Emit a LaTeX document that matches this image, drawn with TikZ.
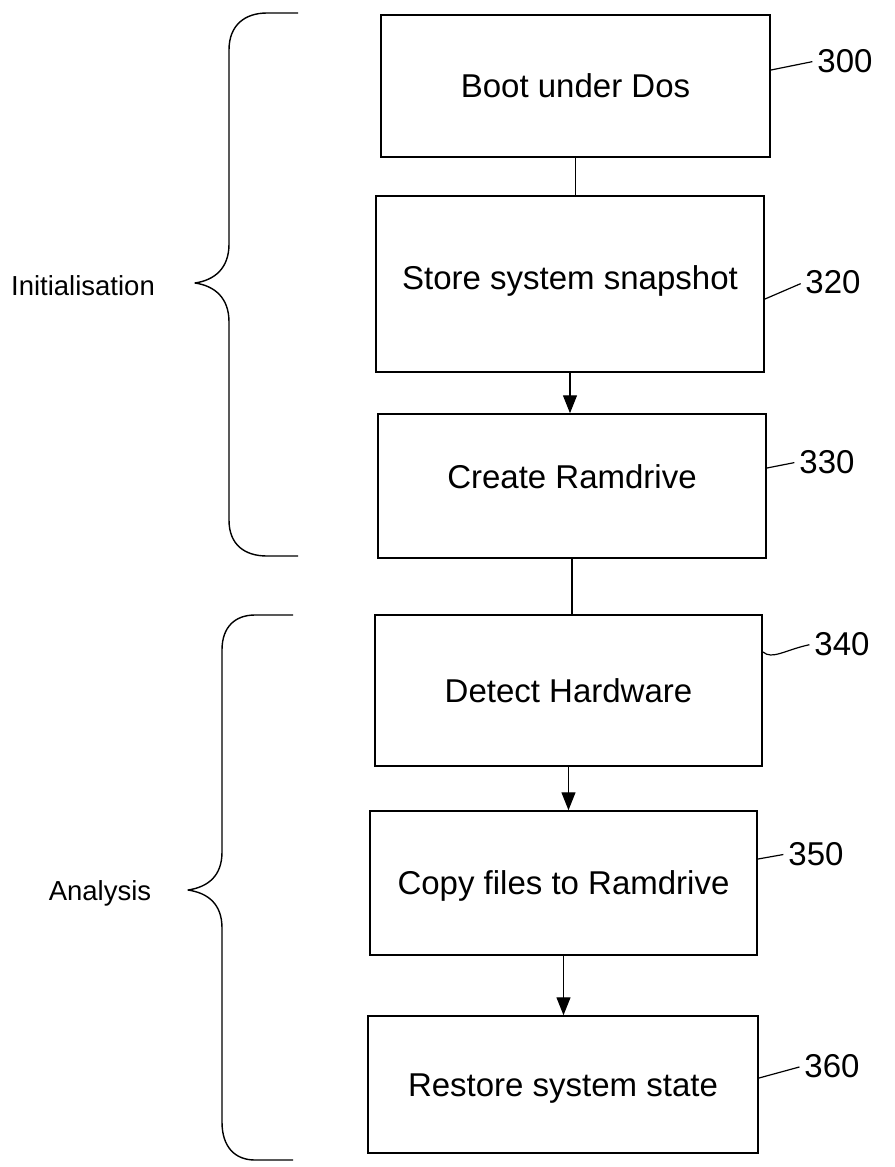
\documentclass[tikz,border=0pt]{standalone}
\usepackage{fontspec}
\setmainfont{Liberation Sans}
\usetikzlibrary{arrows.meta}
\begin{document}
\begin{tikzpicture}[x=1pt,y=-1pt,
  stepbox/.style={draw, rectangle, line width=1.5pt, inner sep=0pt,
    font=\fontsize{33}{40}\selectfont, text height=23.6pt, text depth=0pt},
  reflabel/.style={font=\fontsize{33}{40}\selectfont, inner sep=0pt, anchor=base},
  grouplabel/.style={font=\fontsize{27.5}{33}\selectfont, inner sep=0pt, anchor=base},
  plainlink/.style={line width=1.3pt},
  flow/.style={line width=1.3pt, -{Triangle[length=18pt,width=14pt]}},
  leader/.style={line width=1.2pt, shorten >=5pt},
  bracepath/.style={line width=1.4pt, line join=round},
]
\useasboundingbox (0,0) rectangle (894,1167);

% process boxes
\node[stepbox, minimum width=389pt, minimum height=142pt] (b300) at (575.5,86) {Boot under Dos};
\node[stepbox, minimum width=388pt, minimum height=176pt, text depth=12pt] (b320) at (570,284) {Store system snapshot};
\node[stepbox, minimum width=388pt, minimum height=144pt, text depth=18pt] (b330) at (572,486) {Create Ramdrive};
\node[stepbox, minimum width=387pt, minimum height=151pt] (b340) at (568.5,690.5) {Detect Hardware};
\node[stepbox, minimum width=387pt, minimum height=144pt] (b350) at (563.5,883) {Copy files to Ramdrive};
\node[stepbox, minimum width=390pt, minimum height=137pt] (b360) at (563,1084.5) {Restore system state};

% connectors
\draw[plainlink] (b300.south) -- (b300.south |- b320.north);
\draw[flow] (b320.south) -- (b320.south |- b330.north);
\draw[plainlink] (b330.south) -- (b330.south |- b340.north);
\draw[flow] (b340.south) -- (b340.south |- b350.north);
\draw[flow] (b350.south) -- (b350.south |- b360.north);

% reference numerals
\node[reflabel] (l300) at (845,72) {300};
\node[reflabel] (l320) at (833,293) {320};
\node[reflabel] (l330) at (827,473) {330};
\node[reflabel] (l340) at (842,655) {340};
\node[reflabel] (l350) at (816,865) {350};
\node[reflabel] (l360) at (832,1077) {360};

\coordinate (e300) at (771,70);
\coordinate (e320) at (765,299);
\coordinate (e330) at (767,468);
\coordinate (e340) at (763,652);
\coordinate (e350) at (758,859);
\coordinate (e360) at (759,1078);

\draw[leader] (e300) -- (l300.west);
\draw[leader] (e320) -- (l320.west);
\draw[leader] (e330) -- (l330.west);
\draw[leader] (e340) .. controls (772,660) and (785,650) .. (l340.west);
\draw[leader] (e350) -- (l350.west);
\draw[leader] (e360) -- (l360.west);

% braces
\draw[bracepath] (298,13) -- (267,13) .. controls (245,13) and (229,25) .. (229,50)
  -- (229,244) .. controls (229,268) and (215,280) .. (195,283)
  .. controls (215,286) and (229,298) .. (229,322)
  -- (229,520) .. controls (229,545) and (245,556) .. (267,556) -- (298,556);
\draw[bracepath] (293,615) -- (255,615) .. controls (235,615) and (222,627) .. (222,650)
  -- (222,852) .. controls (222,876) and (208,887) .. (188,890)
  .. controls (208,893) and (222,904) .. (222,928)
  -- (222,1122) .. controls (222,1147) and (235,1160) .. (255,1160) -- (293,1160);

% group labels
\node[grouplabel] (gInit) at (83,295) {Initialisation};
\node[grouplabel] (gAna) at (100,900) {Analysis};
\end{tikzpicture}
\end{document}
